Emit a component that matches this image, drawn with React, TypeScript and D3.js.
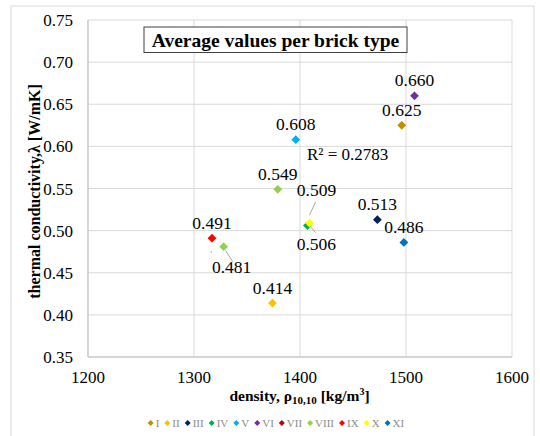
import React from "react";
import * as d3 from "d3";

const seriesNames = ["I", "II", "III", "IV", "V", "VI", "VII", "VIII", "IX", "X", "XI"];
const seriesColors = ["#BF8F00", "#FFC000", "#002060", "#00B050", "#00B0F0", "#7030A0", "#C00000", "#92D050", "#FF0000", "#FFFF00", "#0070C0"];

// points: series index, density, conductivity
const pointSeries = [0, 1, 2, 3, 4, 5, 7, 7, 8, 9, 10];
const pointDensity = [1496, 1374, 1473, 1407, 1396, 1508, 1379, 1328, 1317, 1409, 1498];
const pointLambda = [0.625, 0.414, 0.513, 0.506, 0.608, 0.66, 0.549, 0.481, 0.491, 0.509, 0.486];
const pointLabels = ["0.625", "0.414", "0.513", "0.506", "0.608", "0.660", "0.549", "0.481", "0.491", "0.509", "0.486"];

const xTicks = [1200, 1300, 1400, 1500, 1600];
const yTicks = [0.35, 0.4, 0.45, 0.5, 0.55, 0.6, 0.65, 0.7, 0.75];
const rSquared = "R² = 0.2783";

// label layout: dx, dy of label baseline relative to point, and whether a leader line is drawn
const labelLayout: Record<string, { dx: number; dy: number; leader?: [number, number, number, number] }> = {
  "0.506": { dx: 9, dy: 24, leader: [3, 1, 8, 7] },
  "0.509": { dx: 7, dy: -27, leader: [0, -8, 6, -21] },
  "0.481": { dx: 8, dy: 26, leader: [2, 4, 9, 15] },
};

const W = 540;
const H = 436;
const FONT = "'Liberation Serif', 'Times New Roman', serif";

const romanWidth: Record<string, number> = { I: 0.333, V: 0.722, X: 0.722 };

export default function App() {
  const x = d3.scaleLinear().domain([1200, 1600]).range([88, 512]);
  const y = d3.scaleLinear().domain([0.35, 0.75]).range([357, 20]);

  const diamond = (cx: number, cy: number, r: number) =>
    `M${cx},${cy - r}L${cx + r},${cy}L${cx},${cy + r}L${cx - r},${cy}Z`;

  // legend layout
  const legendFs = 11;
  let lx = 150.7;
  const legendItems = seriesNames.map((name, i) => {
    const w = name.split("").reduce((s, c) => s + (romanWidth[c] || 0.5), 0) * legendFs;
    const item = { name, color: seriesColors[i], x: lx };
    lx += w + 13;
    return item;
  });

  return (
    <div style={{ position: "absolute", left: 0, top: 0 }}>
      <svg width={W} height={H} style={{ display: "block", background: "#fff" }} fontFamily={FONT}>
        <rect x={11} y={6} width={523} height={H + 10} fill="#fff" stroke="#d9d9d9" strokeWidth={1} />
        {/* gridlines */}
        {yTicks.map((t) => (
          <line key={"gy" + t} x1={x(1200)} x2={x(1600)} y1={y(t)} y2={y(t)} stroke="#d9d9d9" strokeWidth={1} />
        ))}
        {xTicks.map((t) => (
          <line key={"gx" + t} x1={x(t)} x2={x(t)} y1={y(0.75)} y2={y(0.35)} stroke="#d9d9d9" strokeWidth={1} />
        ))}
        <line x1={x(1200)} x2={x(1200)} y1={y(0.75)} y2={y(0.35)} stroke="#bfbfbf" strokeWidth={1} />
        <line x1={x(1200)} x2={x(1600)} y1={y(0.35)} y2={y(0.35)} stroke="#bfbfbf" strokeWidth={1} />
        {/* tick labels */}
        {yTicks.map((t) => (
          <text key={"ty" + t} x={73} y={y(t) + 6} textAnchor="end" fontSize={17} fill="#000">
            {d3.format(".2f")(t)}
          </text>
        ))}
        {xTicks.map((t) => (
          <text key={"tx" + t} x={x(t)} y={383} textAnchor="middle" fontSize={17} fill="#000">
            {t}
          </text>
        ))}
        {/* axis titles */}
        <text
          transform={`translate(40,191.5) rotate(-90)`}
          textAnchor="middle"
          fontSize={16}
          fontWeight="bold"
          fill="#000"
        >
          thermal conductivity,λ [W/mK]
        </text>
        <text x={299.5} y={401} textAnchor="middle" fontSize={15.5} fontWeight="bold" fill="#000">
          density, ρ<tspan fontSize={11} dy={3}>10,10</tspan>
          <tspan dy={-3}> [kg/m</tspan>
          <tspan fontSize={10} dy={-6}>3</tspan>
          <tspan dy={6}>]</tspan>
        </text>
        {/* title */}
        <rect x={144} y={27} width={263} height={25.5} fill="#fff" stroke="#404040" strokeWidth={1} />
        <text x={275.5} y={46.5} textAnchor="middle" fontSize={19.5} fontWeight="bold" fill="#000">
          Average values per brick type
        </text>
        {/* R squared */}
        <text x={307} y={160} fontSize={17} fill="#000">
          {rSquared}
        </text>
        {/* leader lines */}
        {pointLabels.map((lab, i) => {
          const L = labelLayout[lab];
          if (!L || !L.leader) return null;
          const px = x(pointDensity[i]);
          const py = y(pointLambda[i]);
          return (
            <line
              key={"ld" + i}
              x1={px + L.leader[0]}
              y1={py + L.leader[1]}
              x2={px + L.leader[2]}
              y2={py + L.leader[3]}
              stroke="#a6a6a6"
              strokeWidth={1}
            />
          );
        })}
        <line x1={x(1317) - 1} y1={y(0.491) + 13} x2={x(1317) - 0.5} y2={y(0.491) + 14.5} stroke="#7f9fbf" strokeWidth={1} />
        {/* points */}
        {pointLabels.map((lab, i) => {
          const px = x(pointDensity[i]);
          const py = y(pointLambda[i]);
          return (
            <path key={"p" + i} d={diamond(px, py, 4.4)} fill={seriesColors[pointSeries[i]]} />
          );
        })}
        {/* labels */}
        {pointLabels.map((lab, i) => {
          const px = x(pointDensity[i]);
          const py = y(pointLambda[i]);
          const L = labelLayout[lab] || { dx: 0, dy: -9.5 };
          return (
            <text key={"l" + i} x={px + L.dx} y={py + L.dy} textAnchor="middle" fontSize={17.5} fill="#000">
              {lab}
            </text>
          );
        })}
        {/* legend */}
        {legendItems.map((it) => (
          <g key={"lg" + it.name}>
            <path d={diamond(it.x, 423, 3)} fill={it.color} />
            <text x={it.x + 5} y={427} fontSize={legendFs} fill="#8c8c8c">
              {it.name}
            </text>
          </g>
        ))}
      </svg>
    </div>
  );
}
